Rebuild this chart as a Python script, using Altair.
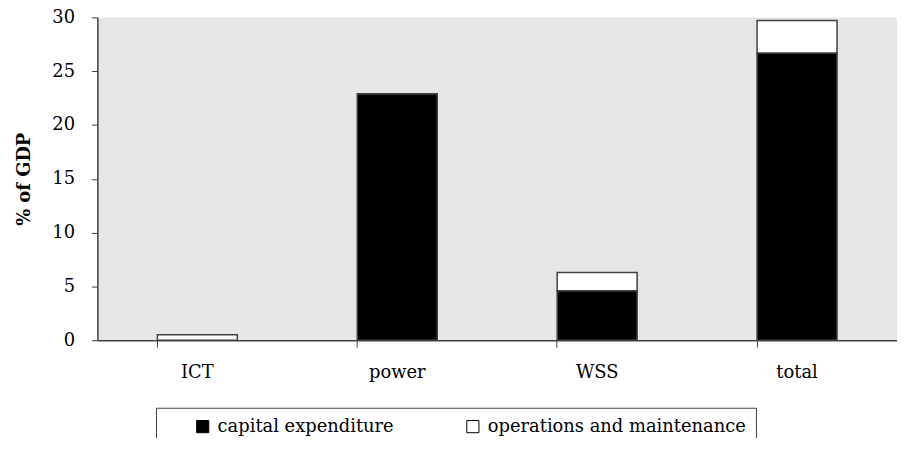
import altair as alt
import pandas as pd

categories = ["ICT", "power", "WSS", "total"]
capital_expenditure = [0.0, 22.9, 4.6, 26.7]
operations_maintenance = [0.5, 0.0, 1.7, 3.0]
series_names = ["capital expenditure", "operations and maintenance"]
y_ticks = [0, 5, 10, 15, 20, 25, 30]

rows = []
for c, a, b in zip(categories, capital_expenditure, operations_maintenance):
    rows.append({"category": c, "series": series_names[0], "value": a, "ord": 0})
    rows.append({"category": c, "series": series_names[1], "value": b, "ord": 1})
df = pd.DataFrame(rows)

FONT = "DejaVu Serif"

chart = alt.Chart(df).mark_bar(stroke="#404040", strokeWidth=1.5).encode(
    x=alt.X("category:N", sort=categories,
            scale=alt.Scale(paddingInner=0.6, paddingOuter=0.3),
            axis=alt.Axis(title=None, labelAngle=0, bandPosition=0, tickSize=7,
                          labelPadding=17, domainColor="#404040", tickColor="#404040",
                          domainWidth=1.5, labelFont=FONT, labelFontSize=18,
                          labelColor="black")),
    y=alt.Y("value:Q", stack="zero",
            scale=alt.Scale(domain=[0, 30], nice=False),
            axis=alt.Axis(title="% of GDP", values=y_ticks, grid=False, tickSize=6,
                          labelPadding=17, titlePadding=18, domainColor="#404040",
                          tickColor="#404040", domainWidth=1.5,
                          labelFont=FONT, labelFontSize=18, labelColor="black",
                          titleFont=FONT, titleFontSize=18, titleFontWeight="bold",
                          titleColor="black")),
    color=alt.Color("series:N",
                    scale=alt.Scale(domain=series_names, range=["black", "white"]),
                    legend=alt.Legend(title=None, orient="none", legendX=59, legendY=393,
                                      direction="horizontal", symbolType="square",
                                      symbolSize=150, symbolStrokeColor="black",
                                      symbolStrokeWidth=1, labelFont=FONT, labelFontSize=18,
                                      labelColor="black", labelOffset=6, columnPadding=42,
                                      labelLimit=400, padding=10, symbolOffset=28,
                                      strokeColor="#404040", fillColor="white")),
    order=alt.Order("ord:Q"),
).properties(
    width=805, height=325,
    autosize=alt.AutoSizeParams(type="none"),
    padding={"left": 90, "top": 8, "right": 0, "bottom": 97},
).configure_view(fill="#e6e6e6", stroke=None)

chart.save("out.html", embed_options={"renderer": "svg", "actions": False})
